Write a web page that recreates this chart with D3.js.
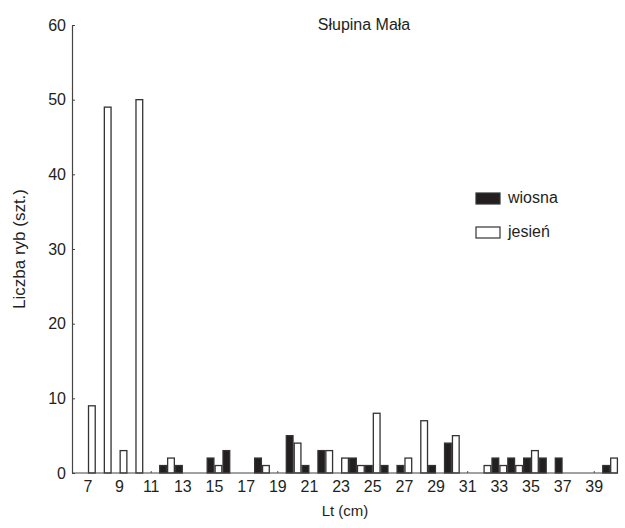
<!DOCTYPE html>
<html>
<head>
<meta charset="utf-8">
<script src="https://cdn.jsdelivr.net/npm/d3@7"></script>
<style>
  body { margin: 0; background: #fff; }
  text { font-family: 'Liberation Sans', Arial, sans-serif; fill: #231f20; }
</style>
</head>
<body>
<svg id="chart"></svg>
<script>
// length classes (cm)
let lengths = d3.range(7, 41)
let seriesNames = ['wiosna', 'jesień']

// number of fish per length class
let wiosna = [0, 0, 0, 0, 0, 1, 1, 0, 2, 3, 0, 2, 0, 5, 1, 3, 0, 2, 1, 1, 1, 0, 1, 4, 0, 0, 2, 2, 2, 2, 2, 0, 0, 1]
let jesien = [9, 49, 3, 50, 0, 2, 0, 0, 1, 0, 0, 1, 0, 4, 0, 3, 2, 1, 8, 0, 2, 7, 0, 5, 0, 1, 1, 1, 3, 0, 0, 0, 0, 2]

let xTickLabels = d3.range(7, 40, 2)
let yTicks = [0, 10, 20, 30, 40, 50, 60]
let smallMarks = [11, 19, 31, 39]

let width = 625
let height = 528

let svg = d3.select('svg#chart').attr('width', width).attr('height', height)

let xScale = d3.scaleBand().domain(lengths).range([80, 618]).padding(0)
let xSub = d3.scaleBand().domain(seriesNames).range([0, xScale.bandwidth()])
let yScale = d3.scaleLinear().domain([0, 60]).range([473, 25])

let colors = { wiosna: '#231f20', 'jesień': '#ffffff' }

let rows = lengths.map((k, i) => ({ k: k, wiosna: wiosna[i], 'jesień': jesien[i] }))

// bars
let groups = svg.append('g')
  .selectAll('g')
  .data(rows)
  .join('g')
  .attr('transform', d => 'translate(' + xScale(d.k) + ',0)')

groups.selectAll('rect')
  .data(d => seriesNames.map(s => ({ s: s, v: d[s] })).filter(e => e.v > 0))
  .join('rect')
  .attr('x', e => xSub(e.s) + 0.6)
  .attr('width', xSub.bandwidth() - 1.2)
  .attr('y', e => yScale(e.v))
  .attr('height', e => yScale(0) - yScale(e.v))
  .attr('fill', e => colors[e.s])
  .attr('stroke', '#333')
  .attr('stroke-width', 1.3)

// tiny marks on the baseline
svg.append('g')
  .selectAll('line')
  .data(smallMarks)
  .join('line')
  .attr('x1', d => xScale(d) + xScale.bandwidth() / 2)
  .attr('x2', d => xScale(d) + xScale.bandwidth() / 2)
  .attr('y1', yScale(0))
  .attr('y2', yScale(0) - 2)
  .attr('stroke', '#555')
  .attr('stroke-width', 1)

// x axis
let xAxis = d3.axisBottom(xScale).tickValues(xTickLabels).tickSize(0).tickPadding(8)
let gx = svg.append('g')
  .attr('transform', 'translate(0,' + yScale(0) + ')')
  .call(xAxis)
gx.select('.domain').remove()
gx.append('line')
  .attr('x1', 72).attr('x2', 618)
  .attr('stroke', '#444').attr('stroke-width', 1.2)
gx.selectAll('text').attr('font-size', 16).attr('font-family', null)

// y axis
let yAxis = d3.axisLeft(yScale).tickValues(yTicks).tickSizeInner(-3).tickSizeOuter(0).tickPadding(6)
let gy = svg.append('g')
  .attr('transform', 'translate(72,0)')
  .call(yAxis)
gy.select('.domain').attr('stroke', '#444').attr('stroke-width', 1.2)
gy.selectAll('.tick line').attr('stroke', '#444')
gy.selectAll('text').attr('font-size', 16).attr('font-family', null)

// titles
svg.append('text')
  .attr('x', 364).attr('y', 30)
  .attr('text-anchor', 'middle')
  .attr('font-size', 16)
  .text('Słupina Mała')

svg.append('text')
  .attr('x', 345).attr('y', 516)
  .attr('text-anchor', 'middle')
  .attr('font-size', 15)
  .text('Lt (cm)')

svg.append('text')
  .attr('transform', 'translate(25,249) rotate(-90)')
  .attr('text-anchor', 'middle')
  .attr('font-size', 17)
  .text('Liczba ryb (szt.)')

// legend
let legend = svg.append('g')
  .selectAll('g')
  .data(seriesNames)
  .join('g')
  .attr('transform', (d, i) => 'translate(476,' + (193 + i * 34) + ')')

legend.append('rect')
  .attr('width', 24).attr('height', 11)
  .attr('fill', d => colors[d])
  .attr('stroke', '#333')
  .attr('stroke-width', 1.2)

legend.append('text')
  .attr('x', 32).attr('y', 10)
  .attr('font-size', 16)
  .text(d => d)
</script>
</body>
</html>
